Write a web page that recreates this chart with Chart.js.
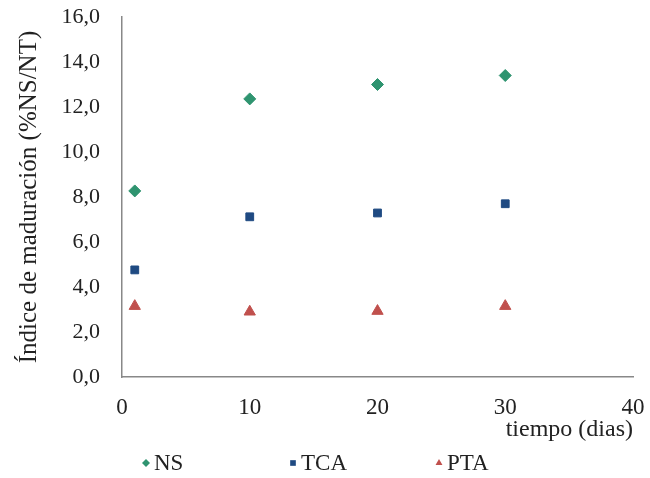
<!DOCTYPE html>
<html>
<head>
<meta charset="utf-8">
<script src="https://cdn.jsdelivr.net/npm/chart.js@4/dist/chart.umd.min.js"></script>
<style>
  html, body { margin: 0; padding: 0; background: #fff; }
  #wrap { width: 650px; height: 478px; }
</style>
</head>
<body>
<div id="wrap"><canvas id="madChart" width="650" height="478"></canvas></div>
<script>
// datos
var dias = [1, 10, 20, 30];
var ns  = [8.27, 12.36, 13.0, 13.4];
var tca = [4.76, 7.12, 7.29, 7.7];
var pta = [3.15, 2.9, 2.93, 3.15];
var xTicks = [0, 10, 20, 30, 40];
var yTicks = [0, 2, 4, 6, 8, 10, 12, 14, 16];

function pts(ys) {
  return dias.map(function(d, i) { return { x: d, y: ys[i] }; });
}

Chart.defaults.font.family = "'Liberation Serif', 'Times New Roman', serif";
Chart.defaults.color = '#222';

// leyenda abajo, con los items bien separados como en Excel
var excelLegend = {
  id: 'excelLegend',
  afterDraw: function(chart, args, opts) {
    var c = chart.ctx;
    c.save();
    c.font = opts.size + 'px ' + Chart.defaults.font.family;
    c.textBaseline = 'middle';
    c.textAlign = 'left';
    chart.data.datasets.forEach(function(ds, i) {
      var x = opts.xs[i];
      c.fillStyle = ds.backgroundColor;
      c.strokeStyle = ds.borderColor;
      c.lineWidth = 1;
      Chart.helpers.drawPoint(c, { pointStyle: ds.pointStyle, radius: 4, rotation: 0 }, x, opts.y);
      c.fillStyle = '#222';
      c.fillText(ds.label, x + 8, opts.y + 1);
    });
    c.restore();
  }
};

// sin relleno extra de las etiquetas, el area queda donde la ponemos
function noPad(s) {
  s.paddingTop = 0; s.paddingBottom = 0; s.paddingLeft = 0; s.paddingRight = 0;
}

var ctx = document.getElementById('madChart').getContext('2d');
new Chart(ctx, {
  type: 'scatter',
  data: {
    datasets: [
      { label: 'NS', data: pts(ns), pointStyle: 'rectRot', pointRadius: 6,
        backgroundColor: '#2f9470', borderColor: '#2f9470' },
      { label: 'TCA', data: pts(tca), pointStyle: 'rect', pointRadius: 5.5,
        backgroundColor: '#1f4a82', borderColor: '#1f4a82' },
      { label: 'PTA', data: pts(pta), pointStyle: 'triangle', pointRadius: 6.5,
        backgroundColor: '#c0504d', borderColor: '#c0504d' }
    ]
  },
  plugins: [excelLegend],
  options: {
    responsive: false,
    animation: false,
    layout: { padding: { left: 0, right: 17, top: 17, bottom: 34 } },
    plugins: {
      tooltip: { enabled: false },
      legend: { display: false },
      excelLegend: { xs: [146, 293, 439], y: 463, size: 23 }
    },
    scales: {
      x: {
        type: 'linear', min: 0, max: 40,
        afterBuildTicks: function(s) { s.ticks = xTicks.map(function(v) { return { value: v }; }); },
        afterFit: function(s) { s.height = 67; noPad(s); },
        grid: { display: false, drawTicks: false },
        border: { color: '#888', width: 1.5 },
        ticks: { padding: 17, font: { size: 23 }, color: '#222', maxRotation: 0 },
        title: { display: true, text: 'tiempo (dias)', align: 'end',
                 font: { size: 24 }, color: '#222', padding: 0 }
      },
      y: {
        min: 0, max: 16,
        afterBuildTicks: function(s) { s.ticks = yTicks.map(function(v) { return { value: v }; }); },
        afterFit: function(s) { s.width = 122; noPad(s); },
        grid: { display: false, drawTicks: false },
        border: { color: '#888', width: 1.5 },
        ticks: { padding: 22, font: { size: 22 }, color: '#222',
                 callback: function(v) { return v.toFixed(1).replace('.', ','); } },
        title: { display: true, text: 'Índice de maduración (%NS/NT)',
                 font: { size: 25 }, color: '#222', padding: { top: 14, bottom: 0 } }
      }
    }
  }
});
</script>
</body>
</html>
